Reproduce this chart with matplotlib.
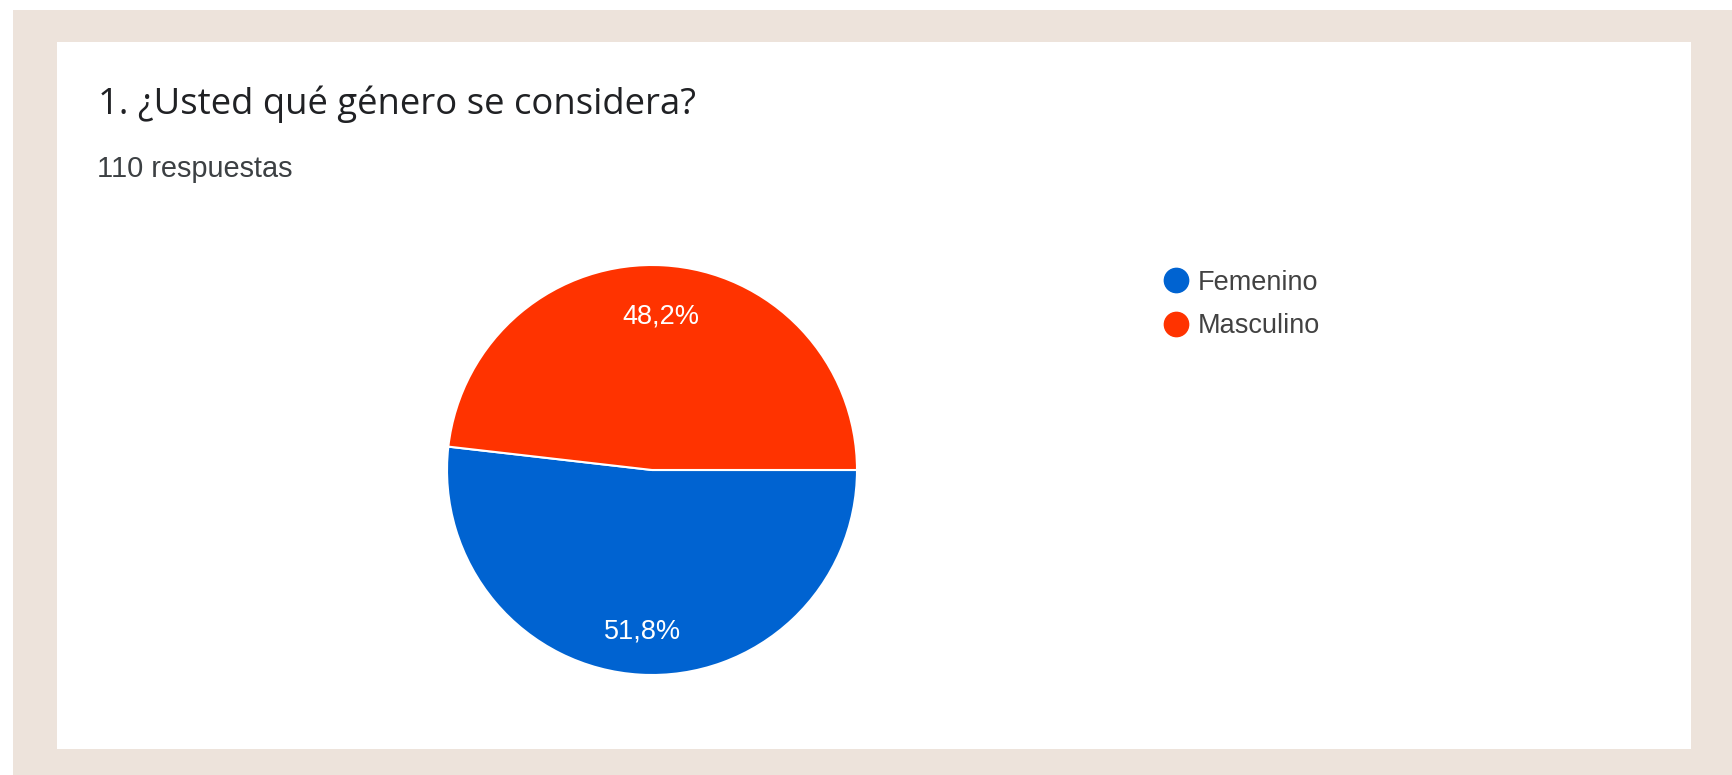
import numpy as np
import matplotlib
matplotlib.use("Agg")
import matplotlib.pyplot as plt
from matplotlib.lines import Line2D
from matplotlib.patches import Rectangle

# survey results
QUESTION = "1. ¿Usted qué género se considera?"
categories = ["Femenino", "Masculino"]
counts = [57, 53]
pct_labels = ["51,8%", "48,2%"]
colors = ["#0063D1", "#FF3300"]

W, H = 1732, 775
BEIGE = "#EDE3DB"
SANS = ["Liberation Sans", "DejaVu Sans"]


def fx(px):
    return px / W


def fy(py):
    # pixel rows counted from the top
    return 1 - py / H


fig = plt.figure(figsize=(W / 100, H / 100), dpi=100, facecolor="white")

# beige frame and white card behind everything
fig.patches.append(Rectangle((fx(13), 0), 1 - fx(13), fy(10), transform=fig.transFigure,
                             facecolor=BEIGE, edgecolor="none", zorder=-3))
fig.patches.append(Rectangle((fx(57), fy(749)), fx(1691 - 57), (749 - 42) / H,
                             transform=fig.transFigure, facecolor="white",
                             edgecolor="none", zorder=-2))

fig.text(fx(98), fy(114), QUESTION, fontsize=26.3, family="Open Sans", color="#202124",
         va="baseline", ha="left")
fig.text(fx(97), fy(177), f"{sum(counts)} respuestas", fontsize=20.8, family=SANS,
         color="#3c4043", va="baseline", ha="left")

# pie: center (652, 470), radius 205 px
cx, cy, r = 652, 470, 205
ax = fig.add_axes([fx(cx - r), fy(cy + r), 2 * r / W, 2 * r / H])
wedges, _ = ax.pie(counts, colors=colors, startangle=0, counterclock=False,
                   wedgeprops=dict(edgecolor="white", linewidth=1.5))
for w, lab in zip(wedges, pct_labels):
    mid = np.deg2rad((w.theta1 + w.theta2) / 2)
    ax.text(0.77 * np.cos(mid), 0.77 * np.sin(mid) - 0.018, lab, color="white",
            fontsize=19.5, family=SANS, ha="center", va="center")
ax.set_xlim(-1, 1)
ax.set_ylim(-1, 1)
ax.set_aspect("equal")
ax.axis("off")

handles = [Line2D([], [], marker="o", linestyle="none", markersize=17.5,
                  markerfacecolor=c, markeredgecolor=c) for c in colors]
fig.legend(handles, categories, loc="upper left", bbox_to_anchor=(fx(1149), fy(256)),
           frameon=False, prop=dict(family=SANS, size=19.5), labelcolor="#424242",
           handletextpad=0.3, labelspacing=0.66, borderpad=0, handlelength=1.0)

fig.savefig("out.png", dpi=100, facecolor="white")
